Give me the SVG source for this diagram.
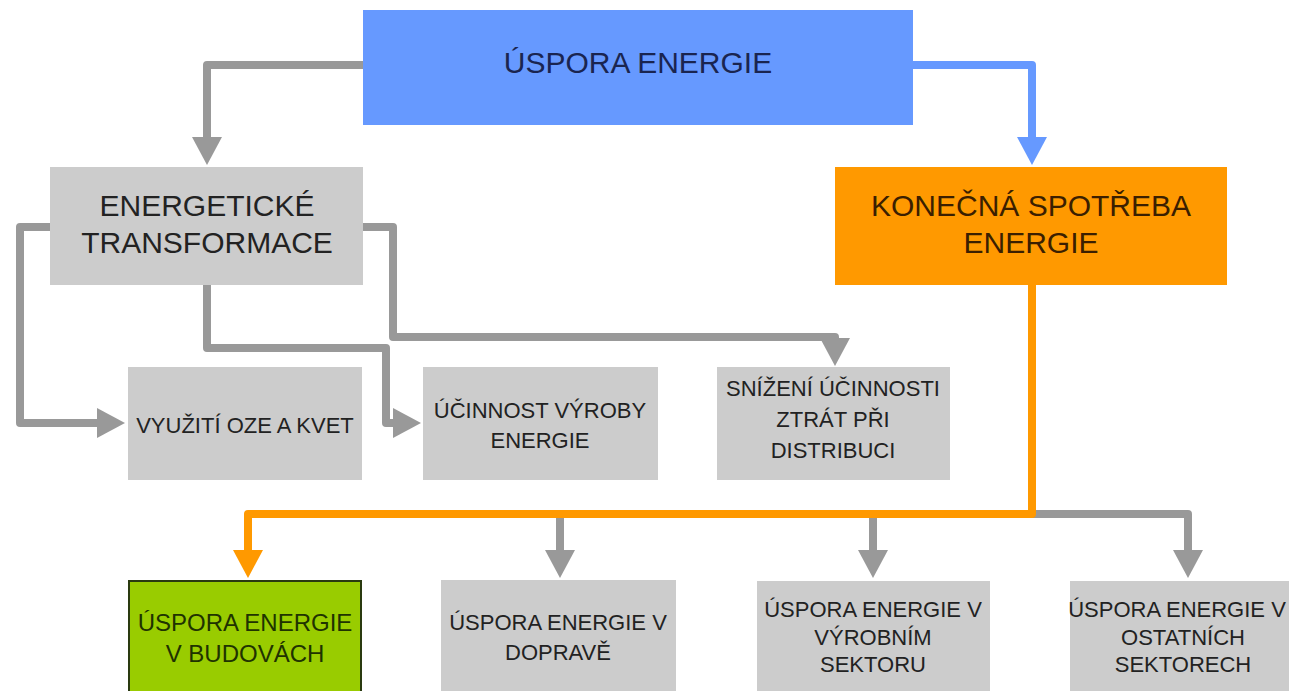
<svg xmlns="http://www.w3.org/2000/svg" width="1289" height="691" viewBox="0 0 1289 691">
<style>
.t{font-family:"Liberation Sans",Arial,sans-serif;text-anchor:middle}
.big{font-size:30px}
.sm{font-size:22px;fill:#222}
.gbox{fill:#cccccc}
.ln{fill:none;stroke-width:8;stroke-linejoin:round}
.g{stroke:#999999}
.b{stroke:#6699ff}
.o{stroke:#ff9900}
</style>
<defs>
<marker id="ag" viewBox="0 0 28 30" refX="0" refY="15" markerWidth="28" markerHeight="30" markerUnits="userSpaceOnUse" orient="auto"><path d="M0,0 L28,15 L0,30 Z" fill="#999999"/></marker>
<marker id="ab" viewBox="0 0 28 30" refX="0" refY="15" markerWidth="28" markerHeight="30" markerUnits="userSpaceOnUse" orient="auto"><path d="M0,0 L28,15 L0,30 Z" fill="#6699ff"/></marker>
<marker id="ao" viewBox="0 0 28 30" refX="0" refY="15" markerWidth="28" markerHeight="30" markerUnits="userSpaceOnUse" orient="auto"><path d="M0,0 L28,15 L0,30 Z" fill="#ff9900"/></marker>
</defs>
<rect width="1289" height="691" fill="#ffffff"/>
<g id="connectors">
<path class="ln g" d="M363,65 H207 V137" marker-end="url(#ag)"/>
<path class="ln b" d="M913,65 H1032 V137" marker-end="url(#ab)"/>
<path class="ln g" d="M50,227 H20 V423 H97" marker-end="url(#ag)"/>
<path class="ln g" d="M207,285 V348 H386 V423 H393" marker-end="url(#ag)"/>
<path class="ln g" d="M363,227 H393 V337 H835 V338" marker-end="url(#ag)"/>
<path class="ln g" d="M1032,514 H1188 V550" marker-end="url(#ag)"/>
<path class="ln g" d="M560,514 V550" marker-end="url(#ag)"/>
<path class="ln g" d="M873,514 V550" marker-end="url(#ag)"/>
<path class="ln o" d="M1032,285 V514 H248 V550" marker-end="url(#ao)"/>
</g>
<g id="n-uspora">
<rect x="363" y="10" width="550" height="115" fill="#6699ff"/>
<text class="t big" x="638" y="73" fill="#1a2550">ÚSPORA ENERGIE</text>
</g>
<g id="n-energeticke">
<rect class="gbox" x="50" y="167" width="313" height="118"/>
<text class="t big" x="207" y="216" fill="#222">ENERGETICKÉ</text>
<text class="t big" x="207" y="253" fill="#222">TRANSFORMACE</text>
</g>
<g id="n-konecna">
<rect x="835" y="167" width="392" height="118" fill="#ff9900"/>
<text class="t big" x="1031" y="216" fill="#3b1f00">KONEČNÁ SPOTŘEBA</text>
<text class="t big" x="1031" y="253" fill="#3b1f00">ENERGIE</text>
</g>
<g id="n-vyuziti">
<rect class="gbox" x="128" y="367" width="234" height="113"/>
<text class="t sm" x="245" y="433">VYUŽITÍ OZE A KVET</text>
</g>
<g id="n-ucinnost">
<rect class="gbox" x="423" y="367" width="235" height="113"/>
<text class="t sm" x="540" y="418">ÚČINNOST VÝROBY</text>
<text class="t sm" x="540" y="448">ENERGIE</text>
</g>
<g id="n-snizeni">
<rect class="gbox" x="717" y="367" width="233" height="113"/>
<text class="t sm" x="833" y="396">SNÍŽENÍ ÚČINNOSTI</text>
<text class="t sm" x="833" y="427">ZTRÁT PŘI</text>
<text class="t sm" x="833" y="458">DISTRIBUCI</text>
</g>
<g id="n-budovy">
<rect x="129" y="581" width="232" height="115" fill="#99cc00" stroke="#2a3a10" stroke-width="2"/>
<text class="t" x="245" y="631" font-size="24" fill="#1f3300">ÚSPORA ENERGIE</text>
<text class="t" x="245" y="662" font-size="24" fill="#1f3300">V BUDOVÁCH</text>
</g>
<g id="n-doprava">
<rect class="gbox" x="441" y="580" width="235" height="111"/>
<text class="t sm" x="558" y="630">ÚSPORA ENERGIE V</text>
<text class="t sm" x="558" y="660">DOPRAVĚ</text>
</g>
<g id="n-vyrobni">
<rect class="gbox" x="757" y="581" width="233" height="110"/>
<text class="t sm" x="873" y="617">ÚSPORA ENERGIE V</text>
<text class="t sm" x="873" y="645">VÝROBNÍM</text>
<text class="t sm" x="873" y="672">SEKTORU</text>
</g>
<g id="n-ostatni">
<rect class="gbox" x="1070" y="581" width="225" height="110"/>
<text class="t sm" x="1177" y="617">ÚSPORA ENERGIE V</text>
<text class="t sm" x="1183" y="645">OSTATNÍCH</text>
<text class="t sm" x="1183" y="672">SEKTORECH</text>
</g>
</svg>
